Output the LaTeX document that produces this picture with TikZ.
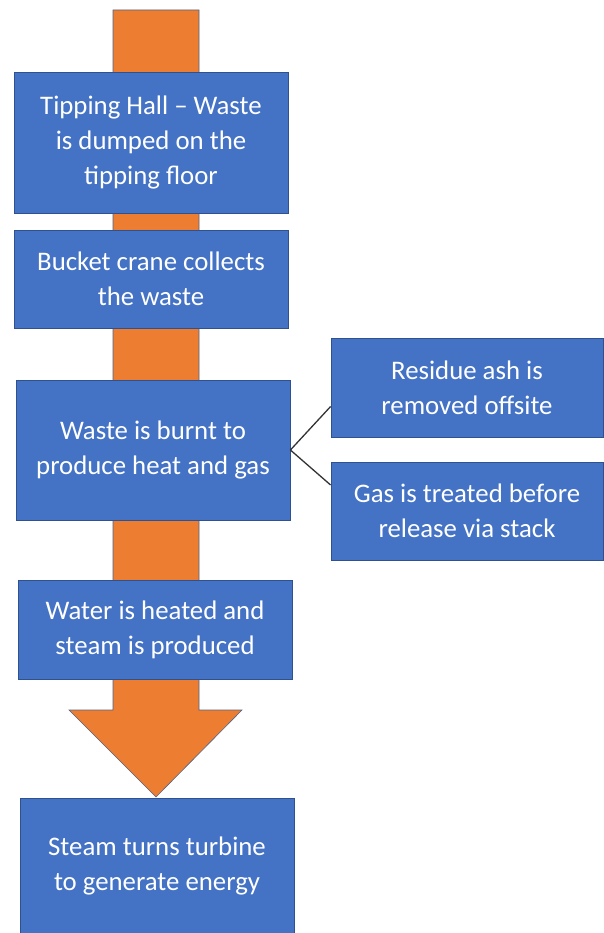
\documentclass[tikz,border=0pt]{standalone}
\usepackage{fontspec}
\setmainfont{Carlito}
\definecolor{kasten}{HTML}{4472C4}
\definecolor{rand}{HTML}{2F528F}
\definecolor{pfeil}{HTML}{ED7D31}

\begin{document}
\begin{tikzpicture}[x=1pt,y=-1pt,
	schritt/.style={draw=rand,line width=0.8pt,fill=kasten,text=white,
		align=center,inner sep=0pt,minimum width=274pt,
		font=\fontsize{26.8}{35}\selectfont},
	zweig/.style={draw=black!80,line width=1.3pt}]

\useasboundingbox (0,0) rectangle (603,933);

% Blockpfeil im Hintergrund
\coordinate (schaft) at (113,10);
\filldraw[fill=pfeil,draw=rand!60!gray,line width=0.6pt]
	(schaft) -- ++(86,0) -- ++(0,700) -- ++(43,0) -- ++(-86,87)
	-- ++(-87,-87) -- ++(44,0) -- cycle;

% Schritte
\node[schritt,minimum height=141pt] (tip) at (151,142.5)
	{Tipping Hall -- Waste\\is dumped on the\\tipping floor};
\node[schritt,minimum height=98pt] (crane) at (151,279)
	{Bucket crane collects\\the waste};
\node[schritt,minimum height=140pt] (burn) at (153,450)
	{Waste is burnt to\\produce heat and gas};
\node[schritt,minimum height=99pt] (water) at (155,629.5)
	{Water is heated and\\steam is produced};
\node[schritt,minimum height=135pt] (turbine) at (157,865.5)
	{Steam turns turbine\\to generate energy};

% Nebenprodukte
\node[schritt,minimum width=272pt,minimum height=99pt] (ash) at (467,387.5)
	{Residue ash is\\removed offsite};
\node[schritt,minimum width=272pt,minimum height=98pt] (gas) at (467,511)
	{Gas is treated before\\release via stack};

\draw[zweig] (burn.east) -- ([yshift=-19pt]ash.west);
\draw[zweig] (burn.east) -- ([yshift=26pt]gas.west);

\end{tikzpicture}
\end{document}
